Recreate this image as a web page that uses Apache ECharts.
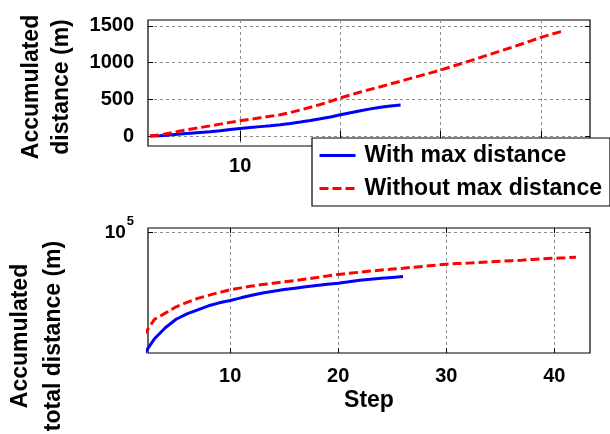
<!DOCTYPE html>
<html>
<head>
<meta charset="utf-8">
<script src="https://cdn.jsdelivr.net/npm/echarts@6/dist/echarts.min.js"></script>
<style>
  html, body { margin: 0; padding: 0; background: #fff; }
  #chart { width: 610px; height: 434px; }
</style>
</head>
<body>
<div id="chart"></div>
<script>
// step numbers
const stepsWith = [1, 2, 3, 4, 5, 6, 7, 8, 9, 10, 11, 12, 13, 14, 15, 16, 17, 18, 19, 20, 21, 22, 23, 24, 25, 26];
const stepsWithout = [1, 2, 3, 4, 5, 6, 7, 8, 9, 10, 11, 12, 13, 14, 15, 16, 17, 18, 19, 20, 21, 22, 23, 24, 25, 26,
  27, 28, 29, 30, 31, 32, 33, 34, 35, 36, 37, 38, 39, 40, 41, 42];

// accumulated distance (m), top plot
const distWith = [0, 5, 15, 28, 38, 48, 58, 72, 88, 104, 116, 128, 140, 155, 172, 190, 212, 235, 260, 290, 318, 345, 370, 392, 408, 422];
const distWithout = [0, 15, 40, 68, 92, 115, 138, 162, 186, 209, 228, 250, 270, 290, 320, 355, 392, 430, 472, 520, 560, 600, 636,
  672, 710, 747, 785, 823, 861, 900, 942, 985, 1028, 1072, 1116, 1160, 1205, 1250, 1297, 1345, 1385, 1422];

// accumulated total distance (m), bottom plot (log scale, starts at step 2)
const totalWith = [24465, 29410, 33390, 36810, 39220, 41070, 43000, 44510, 45710, 47150, 48530, 49830, 50930, 51880, 52720,
  53520, 54330, 55080, 55850, 56820, 57810, 58480, 59090, 59700, 60260];
const totalWithout = [30620, 36810, 39540, 42510, 44770, 46830, 48530, 50180, 51700, 52900, 54010, 54950, 55850, 56690, 57540,
  58550, 59570, 60670, 61800, 62590, 63390, 64200, 65010, 65690, 66370, 67140, 67920, 68710, 69500, 69980, 70380, 70870,
  71360, 71850, 72350, 72850, 73440, 73950, 74470, 74900, 75340];

const xTicks = [10, 20, 30, 40];
const yTicksTop = [0, 500, 1000, 1500];
const yTicksBottom = [100000];

const nameWith = "With max distance";
const nameWithout = "Without max distance";

function pairs(xs, ys, offset) {
  return ys.map((v, i) => [xs[i + offset], v]);
}

const font = "Liberation Sans";
const gridLine = { show: true, lineStyle: { color: "#8c8c8c", type: [3, 3], width: 1 } };
const plain = v => String(v);

function baseAxis(extra) {
  return Object.assign({
    axisLine: { show: false },
    axisTick: { show: true, inside: true, length: 5, lineStyle: { color: "#000", width: 1 } },
    axisLabel: { color: "#000", fontFamily: font, fontWeight: "bold", fontSize: 20 },
    splitLine: gridLine
  }, extra);
}

function ticks(values) {
  return { show: true, inside: true, length: 5, customValues: values, lineStyle: { color: "#000" } };
}

const chart = echarts.init(document.getElementById("chart"));

chart.setOption({
  animation: false,
  backgroundColor: "#fff",
  grid: [
    { left: 148, right: 20, top: 20, height: 126, show: true, borderColor: "#000", borderWidth: 1.2, backgroundColor: "transparent" },
    { left: 148, right: 20, top: 228, height: 125, show: true, borderColor: "#000", borderWidth: 1.2, backgroundColor: "transparent" }
  ],
  xAxis: [
    baseAxis({
      type: "value", gridIndex: 0, min: 0.8, max: 44.9,
      axisTick: ticks(xTicks),
      axisLabel: { color: "#000", fontFamily: font, fontWeight: "bold", fontSize: 20, margin: 10, customValues: xTicks, formatter: plain }
    }),
    baseAxis({
      type: "value", gridIndex: 1, min: 2.4, max: 43.3,
      axisTick: ticks(xTicks),
      axisLabel: { color: "#000", fontFamily: font, fontWeight: "bold", fontSize: 20, margin: 13, customValues: xTicks, formatter: plain },
      name: "Step", nameLocation: "middle", nameGap: 36,
      nameTextStyle: { color: "#000", fontFamily: font, fontWeight: "bold", fontSize: 23 }
    }),
    baseAxis({
      type: "value", gridIndex: 0, min: 0.8, max: 44.9, position: "top",
      axisTick: ticks(xTicks), axisLabel: { show: false }, splitLine: { show: false }
    }),
    baseAxis({
      type: "value", gridIndex: 1, min: 2.4, max: 43.3, position: "top",
      axisTick: ticks(xTicks), axisLabel: { show: false }, splitLine: { show: false }
    })
  ],
  yAxis: [
    baseAxis({
      type: "value", gridIndex: 0, min: -136, max: 1581,
      axisTick: ticks(yTicksTop),
      axisLabel: { color: "#000", fontFamily: font, fontWeight: "bold", fontSize: 20, margin: 14, customValues: yTicksTop, formatter: plain }
    }),
    baseAxis({
      type: "log", logBase: 10, gridIndex: 1, min: 24945, max: 105560,
      axisTick: ticks(yTicksBottom),
      axisLabel: {
        color: "#000", margin: 14, customValues: yTicksBottom,
        formatter: () => "{b|10}{s|5}",
        rich: {
          b: { fontFamily: font, fontWeight: "bold", fontSize: 19, color: "#000" },
          s: { fontFamily: font, fontWeight: "bold", fontSize: 13, color: "#000", padding: [0, 0, 22, 1] }
        }
      }
    }),
    baseAxis({
      type: "value", gridIndex: 0, min: -136, max: 1581, position: "right",
      axisTick: ticks(yTicksTop), axisLabel: { show: false }, splitLine: { show: false }
    }),
    baseAxis({
      type: "log", logBase: 10, gridIndex: 1, min: 24945, max: 105560, position: "right",
      axisTick: ticks(yTicksBottom), axisLabel: { show: false }, splitLine: { show: false }
    })
  ],
  legend: {
    left: 312, top: 138, orient: "vertical",
    padding: [6, 8, 6, 6], itemGap: 10, itemWidth: 36, itemHeight: 14,
    backgroundColor: "#fff", borderColor: "#000", borderWidth: 1.2, borderRadius: 0,
    itemStyle: { color: "transparent", borderColor: "transparent", borderWidth: 0, opacity: 0 },
    lineStyle: { width: 3 },
    textStyle: { color: "#000", fontFamily: font, fontWeight: "bold", fontSize: 23, padding: [0, 0, 0, 4] },
    data: [nameWith, nameWithout],
    z: 10
  },
  graphic: [
    {
      type: "text", x: 47, y: 87, rotation: Math.PI / 2,
      style: {
        text: "Accumulated\ndistance (m)", fill: "#000", font: "bold 23px 'Liberation Sans'",
        lineHeight: 30, align: "center", verticalAlign: "middle"
      }
    },
    {
      type: "text", x: 37, y: 336, rotation: Math.PI / 2,
      style: {
        text: "Accumulated\ntotal distance (m)", fill: "#000", font: "bold 23px 'Liberation Sans'",
        lineHeight: 33, align: "center", verticalAlign: "middle"
      }
    }
  ],
  series: [
    {
      name: nameWith, type: "line", xAxisIndex: 0, yAxisIndex: 0, symbol: "none", clip: true,
      lineStyle: { color: "#0000ff", width: 3 }, itemStyle: { color: "#0000ff" },
      data: pairs(stepsWith, distWith, 0), z: 3
    },
    {
      name: nameWithout, type: "line", xAxisIndex: 0, yAxisIndex: 0, symbol: "none", clip: true,
      lineStyle: { color: "#ff0000", width: 3, type: [9, 4] }, itemStyle: { color: "#ff0000" },
      data: pairs(stepsWithout, distWithout, 0), z: 4
    },
    {
      name: nameWith, type: "line", xAxisIndex: 1, yAxisIndex: 1, symbol: "none", clip: true,
      lineStyle: { color: "#0000ff", width: 3 }, itemStyle: { color: "#0000ff" },
      data: pairs(stepsWith, totalWith, 1), z: 3
    },
    {
      name: nameWithout, type: "line", xAxisIndex: 1, yAxisIndex: 1, symbol: "none", clip: true,
      lineStyle: { color: "#ff0000", width: 3, type: [9, 4] }, itemStyle: { color: "#ff0000" },
      data: pairs(stepsWithout, totalWithout, 1), z: 4
    }
  ]
});
</script>
</body>
</html>
